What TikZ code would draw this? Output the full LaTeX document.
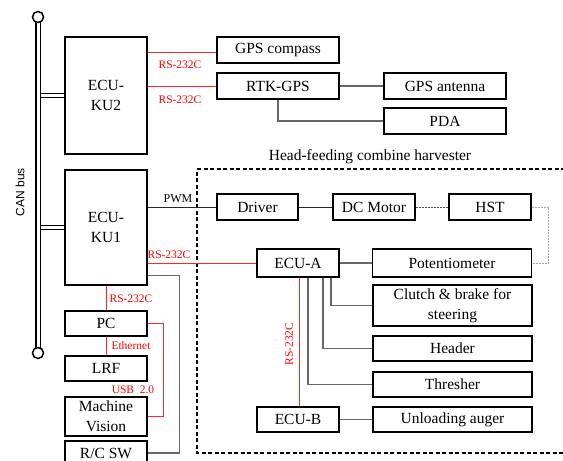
\documentclass[tikz,border=0pt]{standalone}
\usepackage{fontspec}
\setmainfont{Liberation Serif}
\newfontfamily\busfont{Liberation Sans}
\usetikzlibrary{calc, positioning}

\tikzset{
    unit/.style={draw, line width=1.3pt, fill=white, minimum width=82pt, minimum height=26pt,
        inner sep=1pt, align=center, font=\fontsize{15.5}{18}\selectfont},
    wide unit/.style={unit, minimum width=159pt},
    ecu unit/.style={unit, minimum height=116pt, font=\fontsize{15.5}{20}\selectfont},
    red link/.style={red!85!white, line width=0.8pt},
    gray link/.style={gray!80!black, line width=1.1pt},
    black link/.style={black!85, line width=0.8pt},
    dotted link/.style={black!70, line width=0.8pt, dash pattern=on 2pt off 1pt},
    red label/.style={text=red, inner sep=1pt, font=\fontsize{11.5}{13}\selectfont},
    can bus/.style={double, double distance=3pt, line width=1.3pt},
}

\begin{document}
\begin{tikzpicture}[x=1pt, y=-1pt]
\useasboundingbox (0,0) rectangle (563,461);

\draw [line width=1.3pt, dash pattern=on 4pt off 2.5pt] (565,169) -- (197,169) -- (197,453) -- (565,453);
\node (title) at (370,157) {\fontsize{15.5}{18}\selectfont Head-feeding combine harvester};

\draw [can bus] (38,22) -- (38,348);
\node (bus top) [draw, circle, line width=1.5pt, fill=white, minimum size=11pt, inner sep=0pt] at (38,17) {};
\node (bus bottom) [draw, circle, line width=1.5pt, fill=white, minimum size=11pt, inner sep=0pt] at (38,353) {};
\node (bus label) [rotate=90] at (20,192) {\busfont\fontsize{12}{14}\selectfont CAN bus};

\node (ku2) [ecu unit, minimum height=117pt] at (106,95.5) {ECU-\\KU2};
\node (ku1) [ecu unit, minimum height=115pt] at (106,227.5) {ECU-\\KU1};
\draw [can bus] (40.5,95.5) -- (ku2.west);
\draw [can bus] (40.5,227.5) -- (ku1.west);

\node (compass) [unit, minimum width=122pt] at (278,50) {GPS compass};
\node (rtk) [unit, minimum width=122pt] at (278,86) {RTK-GPS};
\node (antenna) [unit, minimum width=122pt] at (445,86) {GPS antenna};
\node (pda) [unit, minimum width=122pt] at (445,121) {PDA};

\node (driver) [unit, minimum width=81pt] at (257.5,207) {Driver};
\node (motor) [unit] at (374,207) {DC Motor};
\node (hst) [unit] at (490,207) {HST};
\node (ecua) [unit, minimum height=28pt] at (298,263) {ECU-A};
\node (pot) [wide unit, minimum height=28pt] at (452,263) {Potentiometer};
\node (clutch) [wide unit, minimum height=41pt, font=\fontsize{15.5}{20}\selectfont] at (452.5,305.5) {Clutch \& brake for\\steering};
\node (header) [wide unit, minimum height=25pt] at (452.5,348.5) {Header};
\node (thresher) [wide unit, minimum height=25pt] at (452.5,384.5) {Thresher};
\node (ecub) [unit, minimum height=25pt] at (298,419.5) {ECU-B};
\node (auger) [wide unit, minimum height=25pt] at (452.5,419.5) {Unloading auger};

\node (pc) [unit, minimum height=25pt] at (106,323.5) {PC};
\node (lrf) [unit, minimum height=25pt] at (106,368.5) {LRF};
\node (vision) [unit, minimum height=39pt, font=\fontsize{15.5}{20}\selectfont] at (106,416.5) {Machine\\Vision};
\node (rcsw) [unit, minimum height=24pt] at (106,453) {R/C SW};

\draw [red link] ([yshift=-2pt]compass.west -| ku2.east) -- ([yshift=-2pt]compass.west);
\draw [red link] (rtk.west -| ku2.east) -- (rtk.west);
\node (rs compass) [red label] at (180,65) {RS-232C};
\node (rs rtk) [red label] at (180,100) {RS-232C};
\draw [gray link] (rtk.east) -- (antenna.west);
\draw [gray link] (rtk.south) |- (pda.west);

\draw [black link] (driver.west -| ku1.east) -- (driver.west);
\node (pwm) [inner sep=1pt, font=\fontsize{12}{14}\selectfont] at (178,199) {PWM};
\draw [black link] (driver.east) -- (motor.west);
\draw [dotted link] (motor.east) -- (hst.west);
\draw [gray!70, line width=0.9pt, dash pattern=on 2pt off 1pt] (hst.east) -- ++(17,0) |- (pot.east);

\draw [red link] (ecua.west -| ku1.east) -- (ecua.west);
\node (rs ecua) [red label] at (169,255) {RS-232C};
\draw [gray link] (ecua.east) -- (pot.west);
\draw [gray link] ([xshift=33pt]ecua.south) |- (clutch.west);
\draw [gray link] ([xshift=25pt]ecua.south) |- (header.west);
\draw [gray link] ([xshift=10pt]ecua.south) |- (thresher.west);
\draw [red link] ([xshift=1pt]ecua.south) -- ([xshift=1pt]ecub.north);
\node (rs ecub) [red label, rotate=90] at (289,344) {RS-232C};
\draw [gray link] (ecub.east) -- (auger.west);

\draw [red link] (ku1.south) -- (pc.north);
\node (rs pc) [red label] at (131,299) {RS-232C};
\draw [red link] (pc.south) -- (lrf.north);
\node (ethernet) [red label] at (131,346) {Ethernet};
\draw [red link] (pc.east) -- ++(16,0) |- (vision.east);
\node (usb) [red label] at (133,390) {USB\ \ 2.0};
\draw [gray link] ([yshift=10pt]ku1.south east) -- ++(32,0) |- (rcsw.east);

\end{tikzpicture}
\end{document}
